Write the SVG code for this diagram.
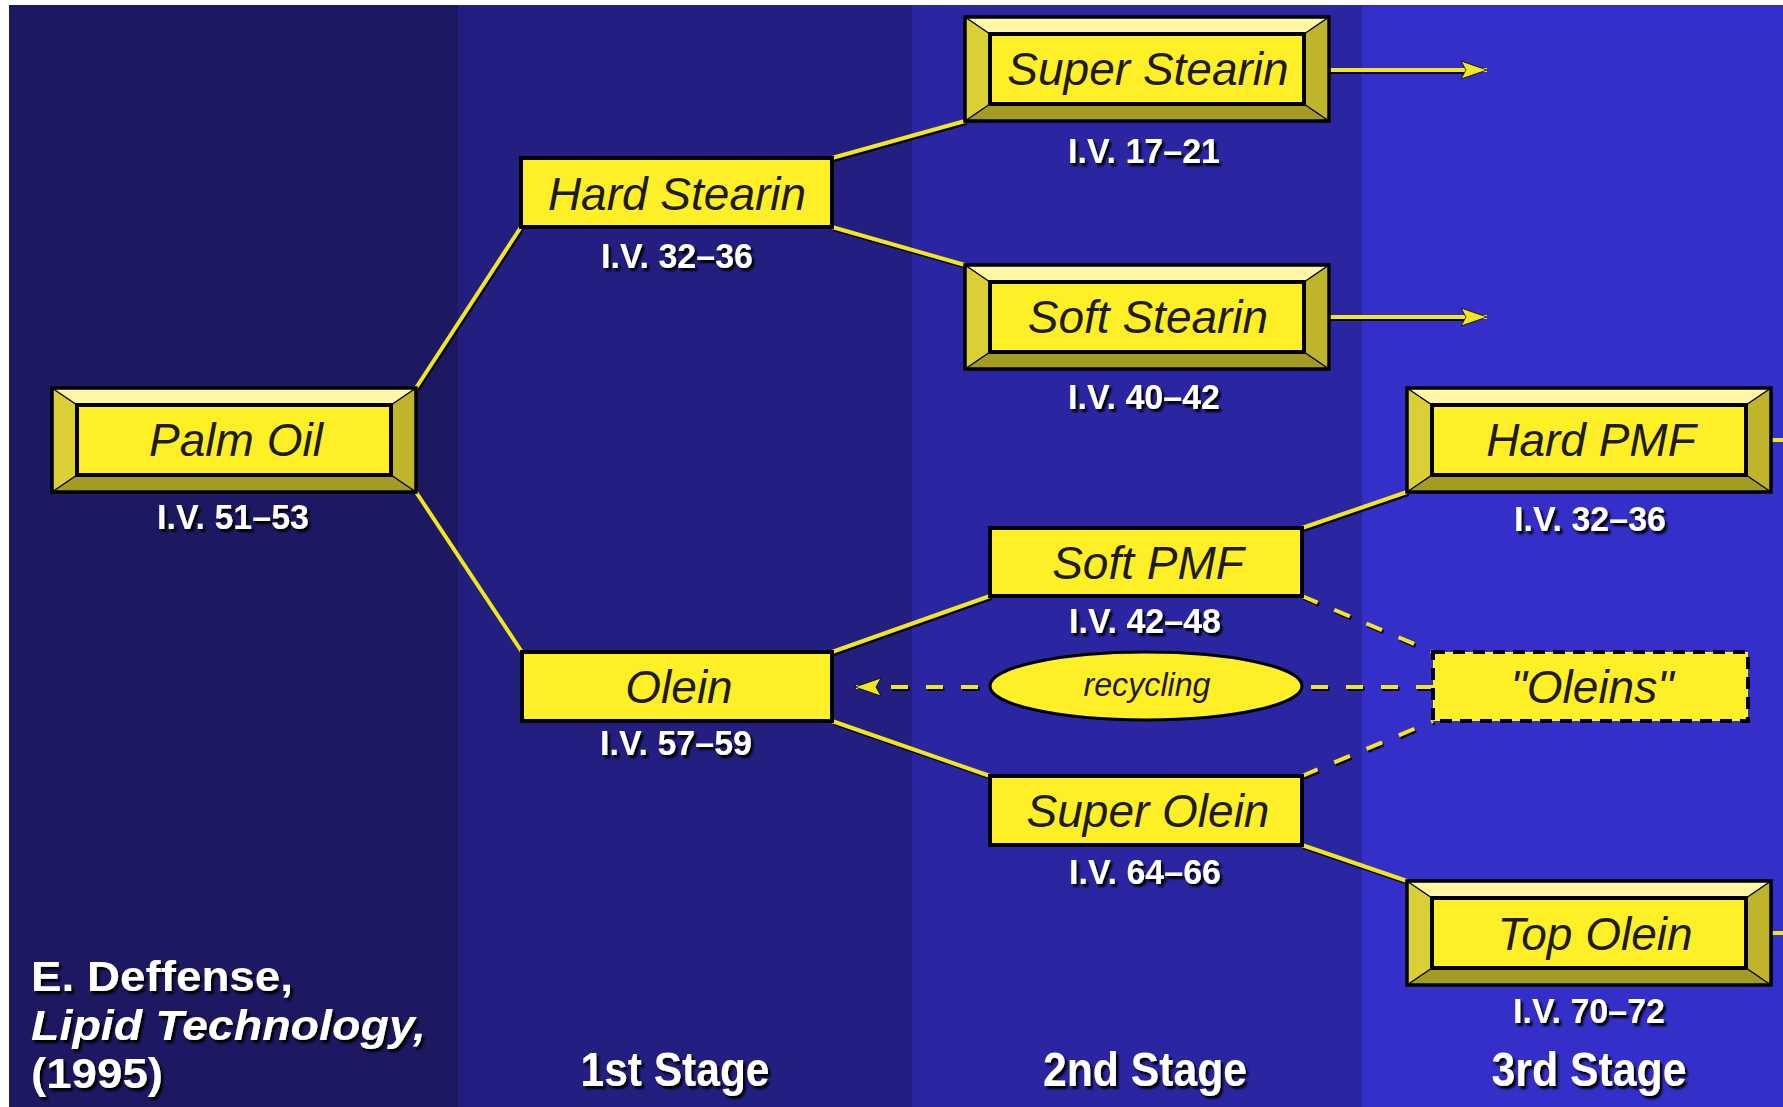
<svg xmlns="http://www.w3.org/2000/svg" xmlns:xlink="http://www.w3.org/1999/xlink" width="1783" height="1107" viewBox="0 0 1783 1107">
<style>
.nt{font-family:"Liberation Sans",Arial,sans-serif;font-style:italic;font-size:46px;fill:#1e1c12;text-anchor:middle}
.iv{font-family:"Liberation Sans",Arial,sans-serif;font-weight:bold;font-size:35px;fill:#ffffff;text-anchor:middle;filter:url(#ds)}
.st{font-family:"Liberation Sans",Arial,sans-serif;font-weight:bold;font-size:48px;fill:#ffffff;text-anchor:middle;filter:url(#ds)}
.ct{font-family:"Liberation Sans",Arial,sans-serif;font-weight:bold;font-size:43px;fill:#ffffff;filter:url(#ds)}
.box{fill:#ffef26;stroke:#000;stroke-width:4}
.ln{stroke:#f2e526;stroke-width:4;fill:none}
.sh{stroke:#000;stroke-width:4;fill:none;opacity:0.85}
.dl{stroke:#f2e526;stroke-width:4;fill:none;stroke-dasharray:17 18}
.dsh{stroke:#000;stroke-width:4;fill:none;stroke-dasharray:17 18;opacity:0.85}
</style>
<defs>
<filter id="ds" x="-10%" y="-20%" width="120%" height="150%">
<feDropShadow dx="2.5" dy="3" stdDeviation="0.8" flood-color="#000" flood-opacity="1"/>
</filter>
<g id="bevel">
<rect x="0" y="0" width="364" height="104" fill="#ffef26"/>
<polygon points="0,0 364,0 339,17 25,17" fill="#fff6a6"/>
<polygon points="0,0 25,17 25,87 0,104" fill="#dacf34"/>
<polygon points="364,0 364,104 339,87 339,17" fill="#bfb42a"/>
<polygon points="0,104 25,87 339,87 364,104" fill="#a49b22"/>
<g stroke="#000" stroke-width="1.5">
<line x1="0" y1="0" x2="25" y2="17"/><line x1="364" y1="0" x2="339" y2="17"/>
<line x1="0" y1="104" x2="25" y2="87"/><line x1="364" y1="104" x2="339" y2="87"/>
</g>
<rect x="25" y="17" width="314" height="70" fill="#ffef26" stroke="#000" stroke-width="4"/>
<rect x="0" y="0" width="364" height="104" fill="none" stroke="#000" stroke-width="3.5"/>
</g>
<marker id="ah" markerWidth="30" markerHeight="22" refX="26" refY="10" orient="auto" markerUnits="userSpaceOnUse">
<path d="M26,10 L0,1 L5,10 L0,19 Z" fill="#f2e526" stroke="#000" stroke-width="0.8"/>
</marker>
</defs>

<!-- background -->
<rect x="0" y="0" width="1783" height="1107" fill="#ffffff"/>
<rect x="9" y="5" width="449" height="1102" fill="#1c1862"/>
<rect x="458" y="5" width="454" height="1102" fill="#221f80"/>
<rect x="912" y="5" width="450" height="1102" fill="#2a26a2"/>
<rect x="1362" y="5" width="421" height="1102" fill="#332fc8"/>

<!-- connectors -->
<g id="connectors">
<g transform="translate(1.5,2)">
<line class="sh" x1="416" y1="388" x2="521" y2="227"/>
<line class="sh" x1="416" y1="492" x2="522" y2="652"/>
<line class="sh" x1="832" y1="158" x2="965" y2="121"/>
<line class="sh" x1="832" y1="227" x2="965" y2="265"/>
<line class="sh" x1="832" y1="652" x2="990" y2="596"/>
<line class="sh" x1="832" y1="721" x2="990" y2="776"/>
<line class="sh" x1="1302" y1="528" x2="1407" y2="492"/>
<line class="sh" x1="1302" y1="845" x2="1407" y2="881"/>
<line class="sh" x1="1329" y1="70" x2="1470" y2="70"/>
<line class="sh" x1="1329" y1="317" x2="1470" y2="317"/>
<line class="dsh" x1="1302" y1="596" x2="1433" y2="652"/>
<line class="dsh" x1="1302" y1="776" x2="1433" y2="721"/>
<line class="dsh" x1="1433" y1="687" x2="878" y2="687"/>
</g>
<line class="ln" x1="416" y1="388" x2="521" y2="227"/>
<line class="ln" x1="416" y1="492" x2="522" y2="652"/>
<line class="ln" x1="832" y1="158" x2="965" y2="121"/>
<line class="ln" x1="832" y1="227" x2="965" y2="265"/>
<line class="ln" x1="832" y1="652" x2="990" y2="596"/>
<line class="ln" x1="832" y1="721" x2="990" y2="776"/>
<line class="ln" x1="1302" y1="528" x2="1407" y2="492"/>
<line class="ln" x1="1302" y1="845" x2="1407" y2="881"/>
<line class="ln" x1="1329" y1="70" x2="1487" y2="70" marker-end="url(#ah)"/>
<line class="ln" x1="1329" y1="317" x2="1487" y2="317" marker-end="url(#ah)"/>
<line class="ln" x1="1771" y1="440" x2="1783" y2="440"/>
<line class="ln" x1="1771" y1="933" x2="1783" y2="933"/>
<line class="dl" x1="1302" y1="596" x2="1433" y2="652"/>
<line class="dl" x1="1302" y1="776" x2="1433" y2="721"/>
<line class="dl" x1="1433" y1="687" x2="855" y2="687" marker-end="url(#ah)"/>
</g>

<!-- nodes -->
<g id="palm-oil">
<use xlink:href="#bevel" x="52" y="388"/>
<text class="nt" x="236" y="456">Palm Oil</text>
<text class="iv" x="233" y="529" textLength="152" lengthAdjust="spacingAndGlyphs">I.V. 51–53</text>
</g>
<g id="hard-stearin">
<rect class="box" x="521" y="158" width="311" height="69"/>
<text class="nt" x="677" y="210">Hard Stearin</text>
<text class="iv" x="677" y="268" textLength="152" lengthAdjust="spacingAndGlyphs">I.V. 32–36</text>
</g>
<g id="super-stearin">
<use xlink:href="#bevel" x="965" y="17"/>
<text class="nt" x="1148" y="85">Super Stearin</text>
<text class="iv" x="1144" y="163" textLength="152" lengthAdjust="spacingAndGlyphs">I.V. 17–21</text>
</g>
<g id="soft-stearin">
<use xlink:href="#bevel" x="965" y="265"/>
<text class="nt" x="1148" y="333">Soft Stearin</text>
<text class="iv" x="1144" y="409" textLength="152" lengthAdjust="spacingAndGlyphs">I.V. 40–42</text>
</g>
<g id="hard-pmf">
<use xlink:href="#bevel" x="1407" y="388"/>
<text class="nt" x="1591" y="456">Hard PMF</text>
<text class="iv" x="1590" y="531" textLength="152" lengthAdjust="spacingAndGlyphs">I.V. 32–36</text>
</g>
<g id="soft-pmf">
<rect class="box" x="990" y="528" width="312" height="68"/>
<text class="nt" x="1148" y="579">Soft PMF</text>
<text class="iv" x="1145" y="633" textLength="152" lengthAdjust="spacingAndGlyphs">I.V. 42–48</text>
</g>
<g id="olein">
<rect class="box" x="522" y="652" width="310" height="69"/>
<text class="nt" x="679" y="703">Olein</text>
<text class="iv" x="676" y="755" textLength="152" lengthAdjust="spacingAndGlyphs">I.V. 57–59</text>
</g>
<g id="recycling">
<ellipse cx="1146" cy="686" rx="156" ry="34" fill="#ffef26" stroke="#000" stroke-width="3"/>
<text class="nt" x="1147" y="696" style="font-size:33px" textLength="127" lengthAdjust="spacingAndGlyphs">recycling</text>
</g>
<g id="oleins">
<rect x="1433" y="652" width="315" height="69" fill="#ffef26" stroke="#000" stroke-width="4" stroke-dasharray="12 8"/>
<text class="nt" x="1592" y="703">"Oleins"</text>
</g>
<g id="super-olein">
<rect class="box" x="990" y="776" width="312" height="69"/>
<text class="nt" x="1148" y="827">Super Olein</text>
<text class="iv" x="1145" y="884" textLength="152" lengthAdjust="spacingAndGlyphs">I.V. 64–66</text>
</g>
<g id="top-olein">
<use xlink:href="#bevel" x="1407" y="881"/>
<text class="nt" x="1595" y="950">Top Olein</text>
<text class="iv" x="1589" y="1023" textLength="152" lengthAdjust="spacingAndGlyphs">I.V. 70–72</text>
</g>

<!-- stage labels -->
<g id="stages">
<text class="st" x="675" y="1086" textLength="189" lengthAdjust="spacingAndGlyphs">1st Stage</text>
<text class="st" x="1145" y="1086" textLength="204" lengthAdjust="spacingAndGlyphs">2nd Stage</text>
<text class="st" x="1589" y="1086" textLength="195" lengthAdjust="spacingAndGlyphs">3rd Stage</text>
</g>

<!-- citation -->
<g id="citation">
<text class="ct" x="31" y="991" textLength="262" lengthAdjust="spacingAndGlyphs">E. Deffense,</text>
<text class="ct" x="31" y="1040" font-style="italic" textLength="395" lengthAdjust="spacingAndGlyphs">Lipid Technology,</text>
<text class="ct" x="31" y="1088" textLength="132" lengthAdjust="spacingAndGlyphs">(1995)</text>
</g>
</svg>
